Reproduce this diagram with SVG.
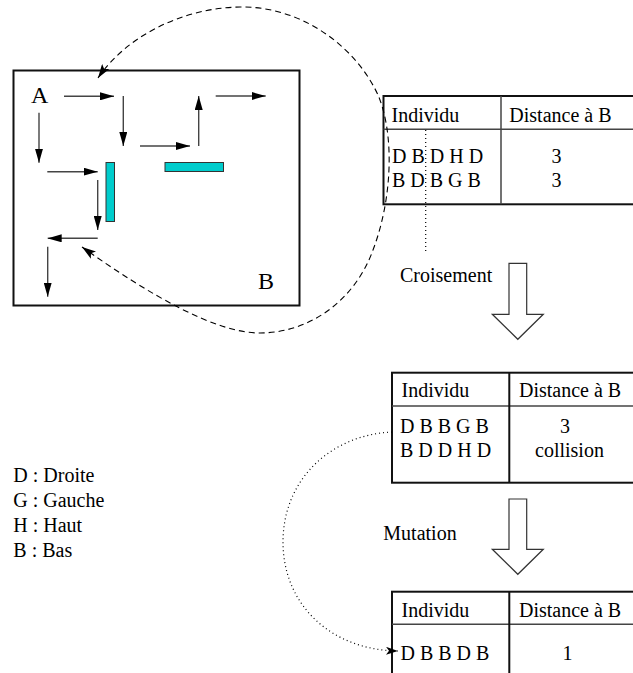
<svg xmlns="http://www.w3.org/2000/svg" width="633" height="673" viewBox="0 0 633 673">
  <style>
    text { font-family: "Liberation Serif", "Times New Roman", serif; fill: #000; }
    .t20 { font-size: 20px; }
    .big { font-size: 24px; }
    .frame { fill: none; stroke: #111; stroke-width: 2; }
    .inner { fill: none; stroke: #444; stroke-width: 1.5; }
    .step { fill: none; stroke: #444; stroke-width: 1.4; marker-end: url(#head); }
    .wall { fill: #00cccc; stroke: #333; stroke-width: 1; }
    .block { fill: #fff; stroke: #333; stroke-width: 1.2; }
    .dash { fill: none; stroke: #000; stroke-width: 1.1; stroke-dasharray: 6 4; }
    .dot { fill: none; stroke: #000; stroke-width: 1.2; stroke-dasharray: 1 3; }
  </style>
  <defs>
    <marker id="head" viewBox="0 0 14 8" refX="14" refY="4" markerWidth="14" markerHeight="8" markerUnits="userSpaceOnUse" orient="auto">
      <path d="M0,0 L14,4 L0,8 Z" fill="#000"/>
    </marker>
    <marker id="curveHead" viewBox="0 0 14 9" refX="14" refY="4.5" markerWidth="14" markerHeight="9" markerUnits="userSpaceOnUse" orient="auto-start-reverse">
      <path d="M0,0 L14,4.5 L0,9 L3,4.5 Z" fill="#000"/>
    </marker>
    <marker id="dotHead" viewBox="0 0 12 8" refX="12" refY="4" markerWidth="12" markerHeight="8" markerUnits="userSpaceOnUse" orient="auto">
      <path d="M0,0 L12,4 L0,8 L3,4 Z" fill="#000"/>
    </marker>
  </defs>

  <!-- Grid with the path from A to B -->
  <g id="grid">
    <rect class="frame" x="13.5" y="70.5" width="286" height="235"/>
    <text class="big" x="31" y="103">A</text>
    <text class="big" x="258" y="289">B</text>
    <rect class="wall" x="106" y="162.5" width="8.5" height="59"/>
    <rect class="wall" x="165" y="162.5" width="58.5" height="9"/>
    <line class="step" x1="64" y1="96.3" x2="114" y2="96.3"/>
    <line class="step" x1="123.3" y1="96" x2="123.3" y2="146"/>
    <line class="step" x1="140" y1="146" x2="190" y2="146"/>
    <line class="step" x1="198.7" y1="146" x2="198.7" y2="96"/>
    <line class="step" x1="215.7" y1="96" x2="265.7" y2="96"/>
    <line class="step" x1="39" y1="112.7" x2="39" y2="162.7"/>
    <line class="step" x1="47.3" y1="171.7" x2="97.7" y2="171.7"/>
    <line class="step" x1="97.7" y1="180" x2="97.7" y2="230"/>
    <line class="step" x1="97.7" y1="238.3" x2="47.7" y2="238.3"/>
    <line class="step" x1="47.7" y1="246.7" x2="47.7" y2="296.7"/>
  </g>

  <!-- First population -->
  <g id="table1">
    <rect class="frame" x="383.5" y="96" width="260" height="108.3"/>
    <line class="inner" x1="383.5" y1="129.3" x2="640" y2="129.3"/>
    <line class="inner" x1="501" y1="96" x2="501" y2="204.3"/>
    <text class="t20" x="391.5" y="121.7">Individu</text>
    <text class="t20" x="509.3" y="121.7">Distance à B</text>
    <text class="t20" x="392" y="163.3">D B D H D</text>
    <text class="t20" x="392" y="187.3">B D B G B</text>
    <text class="t20" x="551.5" y="163.3">3</text>
    <text class="t20" x="551.5" y="187.3">3</text>
  </g>

  <!-- After crossover -->
  <g id="table2">
    <rect class="frame" x="392" y="372.7" width="260" height="110"/>
    <line class="inner" x1="392" y1="406" x2="640" y2="406"/>
    <line class="frame" x1="509.3" y1="372.7" x2="509.3" y2="482.7"/>
    <text class="t20" x="401.5" y="397.3">Individu</text>
    <text class="t20" x="519" y="397.3">Distance à B</text>
    <text class="t20" x="400" y="432.7">D B B G B</text>
    <text class="t20" x="400" y="456.7">B D D H D</text>
    <text class="t20" x="560" y="432.7">3</text>
    <text class="t20" x="535" y="456.7">collision</text>
  </g>

  <!-- After mutation -->
  <g id="table3">
    <rect class="frame" x="392" y="591.7" width="260" height="100"/>
    <line class="inner" x1="392" y1="624.3" x2="640" y2="624.3"/>
    <line class="frame" x1="509.3" y1="591.7" x2="509.3" y2="680"/>
    <text class="t20" x="401.5" y="616.7">Individu</text>
    <text class="t20" x="519" y="616.7">Distance à B</text>
    <text class="t20" x="400.5" y="659.5">D B B D B</text>
    <text class="t20" x="562.5" y="659.5">1</text>
  </g>

  <!-- Operator steps -->
  <g id="crossover">
    <polygon class="block" points="509,263.3 526.7,263.3 526.7,314.3 543.3,314.3 517.8,339.3 492.3,314.3 509,314.3"/>
    <text class="t20" x="400" y="281.7">Croisement</text>
  </g>
  <g id="mutation">
    <polygon class="block" points="509,499 526.7,499 526.7,549.3 543.3,549.3 517.8,574.3 492.3,549.3 509,549.3"/>
    <text class="t20" x="383.3" y="540">Mutation</text>
  </g>

  <!-- Legend -->
  <g id="legend">
    <text class="t20" x="13.3" y="481.7">D : Droite</text>
    <text class="t20" x="13.3" y="507.3">G : Gauche</text>
    <text class="t20" x="13.3" y="532.3">H : Haut</text>
    <text class="t20" x="13.3" y="557.3">B : Bas</text>
  </g>

  <!-- Connectors -->
  <g id="connectors">
    <path class="dash" marker-start="url(#curveHead)" marker-end="url(#curveHead)"
          d="M98,78 C125,38 180,8 240,7 C300,6 355,45 378,95 C395,135 392,200 373,250 C355,300 310,333 260,333 C215,333 150,295 82,247"/>
    <line class="dot" x1="425.7" y1="130" x2="425.7" y2="253"/>
    <path class="dot" marker-end="url(#dotHead)"
          d="M392,432 C330,435 283,480 283,542 C283,604 330,650 398,651"/>
  </g>
</svg>
